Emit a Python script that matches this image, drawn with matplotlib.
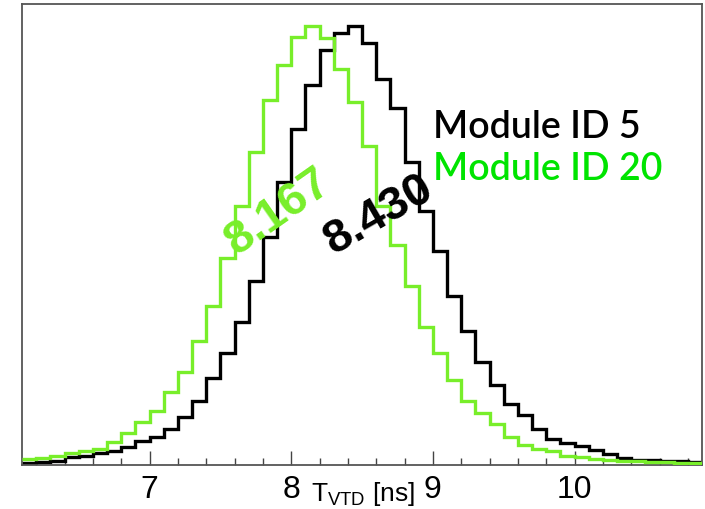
import numpy as np
import matplotlib
matplotlib.use("Agg")
import matplotlib.pyplot as plt

# bins of 0.1 ns from 6.1 to 10.9 ns
bin_lo = 6.1
bin_hi = 10.9
n_bins = 48

# Module ID 5 (black), counts per bin (arbitrary units)
module5 = [2, 3.5, 4.5, 8, 9, 12, 14, 18, 24, 28,
           36, 48, 64, 87, 112, 143, 184, 228, 283, 336,
           380, 415, 432, 439, 422, 386, 357, 303, 254, 214,
           169, 134, 103, 80, 61, 50, 36, 26, 22, 19,
           15, 11, 7, 5.5, 5, 4.5, 4, 3.5]

# Module ID 20 (green)
module20 = [6, 7, 9, 12, 14, 16, 23, 32, 43, 54,
            73, 93, 124, 159, 207, 259, 313, 365, 400, 428,
            439, 427, 396, 363, 319, 259, 220, 179, 138, 112,
            85, 64, 52, 41, 28, 20, 16, 14, 9, 8,
            6, 5, 4.5, 4, 3.5, 3, 2.5, 2]

mean5 = "8.430"
mean20 = "8.167"
xticks = [7, 8, 9, 10]

hist_green = "#78ee2a"
label_green = "#00e400"

plt.rcParams["font.family"] = ["Liberation Sans", "DejaVu Sans"]

fig = plt.figure(figsize=(7.05, 5.10), dpi=100)
ax = fig.add_axes([22 / 705, 44 / 510, 680 / 705, 461 / 510])

edges = np.linspace(bin_lo, bin_hi, n_bins + 1)
ax.stairs(module5, edges, baseline=None, color="black", lw=2.4, zorder=2)
ax.stairs(module20, edges, baseline=None, color=hist_green, lw=2.4, zorder=3)

ax.set_xlim(bin_lo, bin_hi)
ax.set_ylim(0, 461)

ax.set_xticks(xticks)
ax.set_xticks(np.arange(6.2, 10.9, 0.2), minor=True)
ax.tick_params(axis="x", which="major", direction="in", length=10, width=1,
               labelsize=23, pad=6.5, color="#444444")
ax.tick_params(axis="x", which="minor", direction="in", length=5, width=1,
               color="#444444")
ax.set_yticks([])
for side in ["left", "right", "top", "bottom"]:
    ax.spines[side].set_color("#555555")
    ax.spines[side].set_linewidth(1.3)

# axis title sits between the 8 and 9 labels
fig.text(311 / 705, 9 / 510, r"$\mathregular{T_{VTD}}$ [ns]", fontsize=19,
         ha="left", va="baseline")

# fitted means, rotated along the rising edge
ax.text(7.91, 254, mean20, color=hist_green, fontsize=34, fontweight="bold",
        rotation=35, ha="center", va="center", zorder=4)
ax.text(8.62, 251, mean5, color="black", fontsize=34, fontweight="bold",
        rotation=30, ha="center", va="center", zorder=4)

# legend as coloured text
ax.text(433 / 705, 372 / 510, "Module ID 5", transform=fig.transFigure,
        fontsize=27, family=["Lato", "DejaVu Sans"], fontweight="semibold",
        color="black", ha="left", va="baseline")
ax.text(433 / 705, 330 / 510, "Module ID 20", transform=fig.transFigure,
        fontsize=27, family=["Lato", "DejaVu Sans"], fontweight="semibold",
        color=label_green, ha="left", va="baseline")

fig.savefig("out.png", dpi=100)
